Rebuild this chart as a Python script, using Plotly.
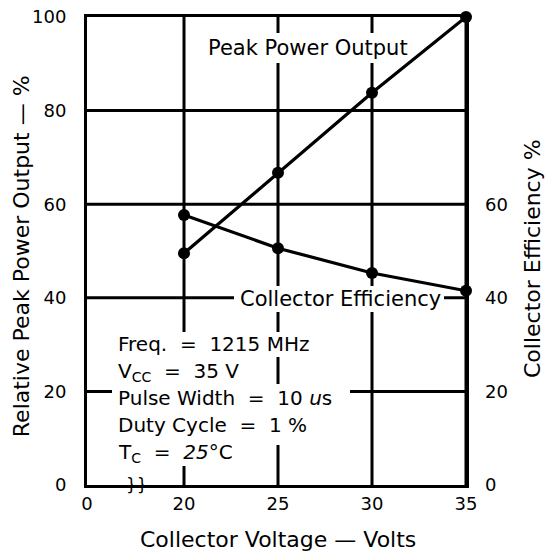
import plotly.graph_objects as go

# ---- data ----
voltage = [20, 25, 30, 35]
peak_power = [49.5, 66.7, 83.8, 100]
efficiency = [57.7, 50.6, 45.3, 41.5]

x_tick_vals = [14.84, 20, 25, 30, 35]
x_tick_text = ["0", "20", "25", "30", "35"]
y_tick_vals = [0, 20, 40, 60, 80, 100]
y2_tick_vals = [0, 20, 40, 60]

conditions = [
    "Freq.  =  1215 MHz",
    "V<sub>CC</sub>  =  35 V",
    "Pulse Width  =  10 <i>u</i>s",
    "Duty Cycle  =  1 %",
    "T<sub>C</sub>  =  <i>25</i>°C",
]
cond_y = [30.1, 24.1, 18.5, 12.8, 6.9]

# white knock-out boxes behind the labels (x0, x1, y0, y1 in axis units)
label_boxes = [
    (21.12, 32.07, 90.17, 96.58),   # Peak Power Output
    (22.66, 33.83, 36.97, 42.52),   # Collector Efficiency
    (16.17, 27.13, 27.35, 32.69),   # Freq.
    (16.17, 23.40, 21.58, 27.35),   # VCC
    (16.17, 28.83, 15.81, 21.58),   # Pulse Width
    (16.17, 27.13, 8.55, 15.81),    # Duty Cycle
    (16.17, 22.98, 4.06, 8.55),     # TC
]

FONT = "DejaVu Sans"
BLACK = "#000000"

fig = go.Figure()
fig.add_trace(go.Scatter(
    x=voltage, y=peak_power, mode="lines+markers",
    line=dict(color=BLACK, width=3.2),
    marker=dict(color=BLACK, size=12),
    showlegend=False, cliponaxis=False,
))
fig.add_trace(go.Scatter(
    x=voltage, y=efficiency, mode="lines+markers", yaxis="y2",
    line=dict(color=BLACK, width=3.2),
    marker=dict(color=BLACK, size=12),
    showlegend=False, cliponaxis=False,
))

annotations = []
annotations.append(dict(
    x=26.6, y=93.4, xref="x", yref="y", text="Peak Power Output",
    xanchor="center", yanchor="middle",
    showarrow=False, font=dict(family=FONT, size=21, color=BLACK),
))
annotations.append(dict(
    x=28.32, y=39.7, xref="x", yref="y", text="Collector Efficiency",
    xanchor="center", yanchor="middle",
    showarrow=False, font=dict(family=FONT, size=21, color=BLACK),
))
for t, yy in zip(conditions, cond_y):
    annotations.append(dict(
        x=16.36, y=yy, xref="x", yref="y", text=t,
        xanchor="left", yanchor="middle",
        showarrow=False, font=dict(family=FONT, size=20, color=BLACK),
    ))
# axis break symbol
annotations.append(dict(
    x=17.5, y=0, xref="x", yref="y", text="}}", showarrow=False,
    xanchor="center", yanchor="middle", yshift=0,
    font=dict(family=FONT, size=17, color=BLACK),
))
# axis titles
annotations.append(dict(
    x=0.504, y=-0.1175, xref="paper", yref="paper",
    xanchor="center", yanchor="middle",
    text="Collector Voltage — Volts", showarrow=False,
    font=dict(family=FONT, size=22, color=BLACK),
))
annotations.append(dict(
    x=-0.174, y=0.489, xref="paper", yref="paper", textangle=-90,
    xanchor="center", yanchor="middle",
    text="Relative Peak Power Output — %", showarrow=False,
    font=dict(family=FONT, size=22, color=BLACK),
))
annotations.append(dict(
    x=1.177, y=0.483, xref="paper", yref="paper", textangle=-90,
    xanchor="center", yanchor="middle",
    text="Collector Efficiency %", showarrow=False,
    font=dict(family=FONT, size=22, color=BLACK),
))

shapes = []
# grid lines (drawn as shapes so the label boxes can knock them out)
for v in voltage:
    shapes.append(dict(type="line", xref="x", yref="paper", x0=v, x1=v, y0=0, y1=1,
                       line=dict(color=BLACK, width=3), layer="below"))
for g in y_tick_vals[1:-1]:
    shapes.append(dict(type="line", xref="paper", yref="y", x0=0, x1=1, y0=g, y1=g,
                       line=dict(color=BLACK, width=3), layer="below"))
for (bx0, bx1, by0, by1) in label_boxes:
    shapes.append(dict(type="rect", xref="x", yref="y", x0=bx0, x1=bx1, y0=by0, y1=by1,
                       fillcolor="white", line=dict(width=0), layer="below"))

fig.update_layout(
    width=546, height=552,
    margin=dict(l=87, r=80, t=17, b=67),
    paper_bgcolor="white", plot_bgcolor="white",
    font=dict(family=FONT, size=18, color=BLACK),
    annotations=annotations,
    shapes=shapes,
    hovermode=False,
    xaxis=dict(
        range=[14.84, 35], tickvals=x_tick_vals, ticktext=x_tick_text,
        showgrid=False, zeroline=False, automargin=False,
        showline=True, linecolor=BLACK, linewidth=3, mirror=True,
        ticks="", ticklen=0, ticklabelstandoff=0, ticklabeloverflow="allow",
        tickfont=dict(family=FONT, size=18, color=BLACK),
    ),
    yaxis=dict(
        range=[0, 100], tickvals=y_tick_vals, automargin=False,
        showgrid=False, zeroline=False,
        showline=True, linecolor=BLACK, linewidth=3, mirror=True,
        ticks="", ticklabelstandoff=14, ticklabeloverflow="allow",
        tickfont=dict(family=FONT, size=18, color=BLACK),
    ),
    yaxis2=dict(
        range=[0, 100], tickvals=y2_tick_vals, overlaying="y", side="right",
        showgrid=False, zeroline=False, showline=False, automargin=False,
        ticks="", ticklabelstandoff=18, ticklabeloverflow="allow",
        tickfont=dict(family=FONT, size=18, color=BLACK),
    ),
)

fig.write_html("out.html", config={"displayModeBar": False},
               post_script="document.body.style.margin='0px';")
